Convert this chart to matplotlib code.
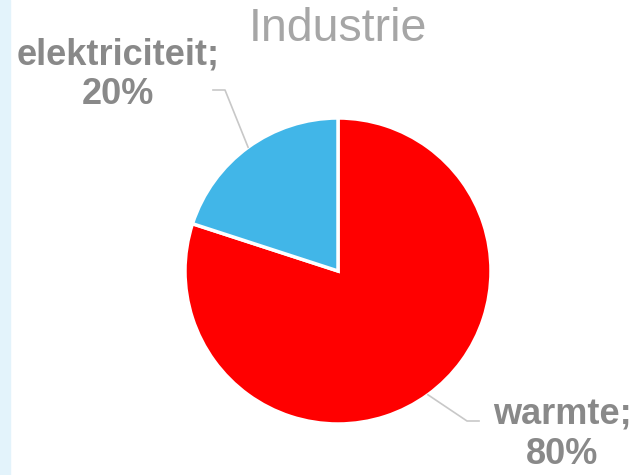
import numpy as np
import matplotlib.pyplot as plt
from matplotlib.patches import Rectangle

# data
categories = ["warmte", "elektriciteit"]
shares = [80, 20]
colors = ["#FF0000", "#41B6E8"]
title = "Industrie"

plt.rcParams["font.family"] = ["Liberation Sans", "DejaVu Sans"]

fig = plt.figure(figsize=(6.41, 4.75), dpi=100)
ax = fig.add_axes([0, 0, 1, 1])

# light blue strip on the left edge
fig.patches.append(Rectangle((0, 0), 10 / 641, 1, transform=fig.transFigure,
                             color="#E3F3FB", zorder=0))

center = (338, 204)
radius = 153
wedges, _ = ax.pie(shares, colors=colors, startangle=90, counterclock=False,
                   center=center, radius=radius, frame=True,
                   wedgeprops=dict(edgecolor="white", linewidth=2.5))
ax.set_xlim(0, 641)
ax.set_ylim(0, 475)
ax.set_aspect("equal")
ax.axis("off")

# label text positions and elbow points (in pixel-like data units)
label_pos = {"warmte": (562, 40), "elektriciteit": (118, 400)}
elbow = {"warmte": [(467, 54), (479, 54)], "elektriciteit": [(225, 385), (213, 385)]}

for w, cat, val in zip(wedges, categories, shares):
    ang = np.deg2rad((w.theta1 + w.theta2) / 2)
    x0 = center[0] + radius * np.cos(ang)
    y0 = center[1] + radius * np.sin(ang)
    pts = [(x0, y0)] + elbow[cat]
    xs, ys = zip(*pts)
    ax.plot(xs, ys, color="#C8C8C8", lw=1.2, zorder=1)
    tx, ty = label_pos[cat]
    ax.text(tx, ty, f"{cat};\n{val}%", ha="center", va="center",
            fontsize=26, fontweight="bold", color="#898989", linespacing=1.15)

ax.text(338, 446, title, ha="center", va="center", fontsize=33.5, color="#A6A6A6")

fig.savefig("out.png", dpi=100)
